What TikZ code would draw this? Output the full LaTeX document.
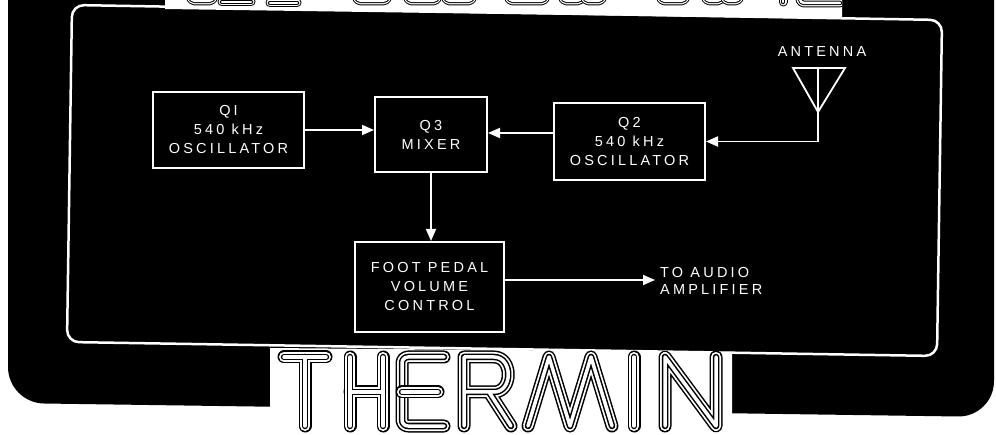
\documentclass[tikz,border=0pt]{standalone}
\usepackage{fontspec}
\newfontfamily\lblfont[LetterSpace=22]{Liberation Sans}
\usetikzlibrary{arrows.meta}
\begin{document}
\begin{tikzpicture}[x=1pt,y=-1pt,
  box/.style={draw=white,line width=2pt,text=white,align=center,inner sep=0pt,
    font=\lblfont\fontsize{14.5}{19}\selectfont},
  lbl/.style={text=white,inner sep=0pt,font=\lblfont\fontsize{14.5}{17.5}\selectfont},
  arr/.style={draw=white,line width=1.8pt,-{Triangle[length=12pt,width=10pt]}},
  wire/.style={draw=white,line width=1.8pt},
  ltr/.style={line cap=round,line join=round,draw=white,line width=3.5pt,
    preaction={draw=black,line cap=round,line join=round,line width=6.5pt,
      preaction={draw=white,line cap=round,line join=round,line width=10pt,
        preaction={draw=black,line cap=round,line join=round,line width=13pt}}}},
  ltrs/.style={line cap=round,line join=round,draw=white,line width=2.5pt,
    preaction={draw=black,line cap=round,line join=round,line width=4.5pt,
      preaction={draw=white,line cap=round,line join=round,line width=7pt,
        preaction={draw=black,line cap=round,line join=round,line width=9pt}}}}
]
\useasboundingbox (0,0) rectangle (996,435);
\fill[white] (0,0) rectangle (996,435);
% black background
\fill[black,rounded corners=36pt] (8,-60) -- (8,403) -- (994,417) -- (994,-60) -- cycle;
% inner frame
\draw[white,line width=2.5pt,rounded corners=12pt] (72,5) -- (942,20) -- (937,356) -- (67,342) -- cycle;
% top title banner (cut off)
\begin{scope}
  \clip (165,-1) -- (842,-1) -- (842,19) -- (165,9) -- cycle;
  \fill[white] (160,-2) rectangle (850,22);
  \foreach \a/\b in {190/214, 356/388, 407/438, 445/473, 508/546, 562/582, 584/603, 660/686, 705/722, 724/740}
    \draw[ltrs,rounded corners=5pt] (\a,-20) -- (\a,1) -- (\b,1) -- (\b,-20);
  \draw[ltrs] (222,2) -- (251,2);
  \draw[ltrs] (270,-3) -- (297,-3) (270,3) -- (297,3);
  \draw[ltrs] (783,-20) -- (783,2);
  \draw[ltrs,rounded corners=4pt] (838,-4) -- (800,-4) -- (800,3) -- (840,3);
\end{scope}
% THERMIN banner
\fill[white] (270,348) -- (732,352) -- (732,436) -- (270,436) -- cycle;
\draw[ltr] (284,357) -- (326,357) (305,357) -- (305,426);
\draw[ltr] (350,357) -- (350,426) (383,357) -- (383,426) (350,392) -- (383,392);
\draw[ltr,rounded corners=6pt] (444,357) -- (402,357) -- (402,426) -- (444,426);
\draw[ltr] (402,392) -- (438,392);
\draw[ltr] (464,426) -- (464,357) -- (494,357) .. controls (513,357) and (513,392) .. (494,392) -- (464,392) (489,392) -- (511,426);
\draw[ltr] (528,426) -- (549,357) -- (570,426) -- (591,357) -- (612,426);
\draw[ltr] (634,357) -- (634,426);
\draw[ltr] (665,426) -- (665,357) -- (716,426) -- (716,357);
% blocks
\node[box,minimum width=151pt,minimum height=76pt] (q1) at (228.5,130) {QI\\540 kHz\\OSCILLATOR};
\node[box,minimum width=112pt,minimum height=75pt] (q3) at (431,134.5) {Q3\\MIXER};
\node[box,minimum width=151pt,minimum height=77pt] (q2) at (629.5,141.5) {Q2\\540 kHz\\OSCILLATOR};
\node[box,minimum width=149pt,minimum height=90pt] (fp) at (429.5,287) {FOOT PEDAL\\VOLUME\\CONTROL};
\node[lbl] (antlbl) at (822,52) {ANTENNA};
\node[lbl,anchor=west,align=left] (out) at (660,281) {TO AUDIO\\AMPLIFIER};
% antenna
\coordinate (antL) at (793,68);
\coordinate (antR) at (845,68);
\coordinate (antB) at (818,112);
\coordinate (antT) at (818,68);
\coordinate (antC) at (818,141.5);
\draw[wire,line join=miter] (antL) -- (antR) -- (antB) -- cycle;
\draw[arr] (antT) -- (antC) -- (q2.east);
% connectors
\coordinate (m2) at (0,133);
\coordinate (o1) at (655,280);
\draw[arr] (q1.east) -- (q3.west |- q1.east);
\draw[arr] (q2.west |- m2) -- (q3.east |- m2);
\draw[arr] (q3.south) -- (q3.south |- fp.north);
\draw[arr] (fp.east |- o1) -- (o1);
\end{tikzpicture}
\end{document}
